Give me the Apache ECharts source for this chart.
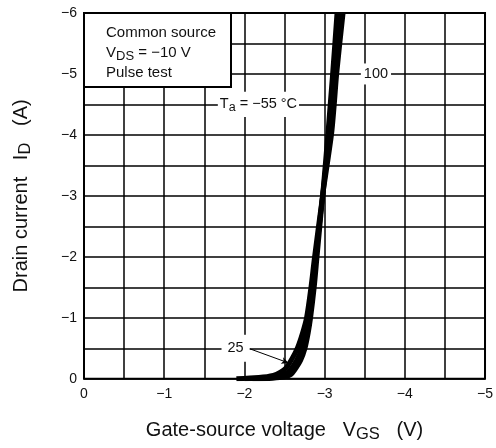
<!DOCTYPE html>
<html>
<head>
<meta charset="utf-8">
<script src="https://cdn.jsdelivr.net/npm/echarts@6/dist/echarts.min.js"></script>
<style>
  html, body { margin: 0; padding: 0; background: #fff; }
  #chart { width: 496px; height: 448px; }
</style>
</head>
<body>
<div id="chart"></div>
<script>
// Transfer characteristics (VGS in V, ID in A)
const vgsM55 = [-2.10, -2.35, -2.50, -2.58, -2.63, -2.70, -2.755, -2.795, -2.825, -2.87, -2.905, -2.975, -3.04, -3.07, -3.10, -3.155];
const idM55  = [0, -0.01, -0.03, -0.07, -0.15, -0.30, -0.50, -0.75, -1.0, -1.5, -2.0, -3.0, -4.0, -4.5, -5.0, -6.0];

const vgs25 = [-2.00, -2.28, -2.43, -2.52, -2.58, -2.65, -2.715, -2.762, -2.80, -2.85, -2.89, -2.975, -3.06, -3.095, -3.125, -3.19];
const id25  = [0, -0.015, -0.04, -0.09, -0.16, -0.30, -0.50, -0.75, -1.0, -1.5, -2.0, -3.0, -4.0, -4.5, -5.0, -6.0];

const vgs100 = [-1.90, -2.18, -2.36, -2.45, -2.52, -2.59, -2.66, -2.725, -2.775, -2.83, -2.875, -2.975, -3.085, -3.12, -3.15, -3.23];
const id100  = [0, -0.02, -0.055, -0.11, -0.18, -0.32, -0.50, -0.75, -1.0, -1.5, -2.0, -3.0, -4.0, -4.5, -5.0, -6.0];

// Curve labels (text, VGS, ID where they sit)
const labelTa  = { text: 'T{sub|a} = \u221255 \u00b0C', at: [-2.175, -4.5] };
const label100 = { text: '100', at: [-3.64, -5.0] };
const label25  = { text: '25', at: [-1.89, -0.5] };
const arrow25  = [[-2.07, -0.49], [-2.55, -0.26]];

const FONT = '"Liberation Sans", Arial, Helvetica, sans-serif';
const INK = '#111';

const pairs = (xs, ys) => xs.map((x, i) => [x, ys[i]]);
const minus = v => (v === 0 ? '0' : '\u2212' + Math.abs(v));

const chart = echarts.init(document.getElementById('chart'));

const subStyle = size => ({ fontSize: size, fontFamily: FONT, color: INK, padding: [size * 0.5, 0, 0, 0] });

const curve = (name, data, extra) => Object.assign({
  name: name,
  type: 'line',
  data: data,
  showSymbol: false,
  smooth: 0.3,
  clip: true,
  lineStyle: { color: '#000', width: 5 },
  z: 5
}, extra || {});

const markLabel = (lab, pad) => ({
  coord: lab.at,
  symbol: 'rect',
  symbolSize: 0,
  label: {
    show: true,
    position: 'inside',
    formatter: lab.text,
    fontSize: 14.5,
    fontFamily: FONT,
    color: INK,
    backgroundColor: '#fff',
    padding: pad,
    rich: { sub: subStyle(12.5) }
  }
});

chart.setOption({
  animation: false,
  backgroundColor: '#fff',
  textStyle: { fontFamily: FONT, color: INK },
  grid: {
    left: 84, right: 5, top: 13, bottom: 68,
    show: true, borderColor: '#000', borderWidth: 2, backgroundColor: 'transparent'
  },
  xAxis: {
    type: 'value',
    min: -5, max: 0, interval: 0.5,
    inverse: true,
    name: 'Gate-source voltage   V{sub|GS}   (V)',
    nameLocation: 'middle',
    nameGap: 39,
    nameTextStyle: { fontSize: 20, fontFamily: FONT, color: INK, rich: { sub: subStyle(16.5) } },
    axisLine: { show: false },
    axisTick: { show: false },
    axisLabel: {
      fontSize: 14, color: INK, fontFamily: FONT, margin: 8,
      formatter: v => (Number.isInteger(v) ? minus(v) : '')
    },
    splitLine: { show: true, lineStyle: { color: '#000', width: 1.5 } }
  },
  yAxis: {
    type: 'value',
    min: -6, max: 0, interval: 0.5,
    inverse: true,
    name: 'Drain current   I{sub|D}   (A)',
    nameLocation: 'middle',
    nameRotate: 90,
    nameGap: 50,
    nameTextStyle: { fontSize: 20, fontFamily: FONT, color: INK, rich: { sub: subStyle(16.5) } },
    axisLine: { show: false },
    axisTick: { show: false },
    axisLabel: {
      fontSize: 14, color: INK, fontFamily: FONT, margin: 7,
      formatter: v => (Number.isInteger(v) ? minus(v) : '')
    },
    splitLine: { show: true, lineStyle: { color: '#000', width: 1.5 } }
  },
  graphic: [
    {
      type: 'rect',
      shape: { x: 84, y: 13, width: 147, height: 74 },
      style: { fill: '#fff', stroke: '#000', lineWidth: 2 },
      z: 100
    },
    {
      type: 'text',
      x: 106, y: 23,
      style: {
        text: 'Common source\nV{sub|DS} = \u221210 V\nPulse test',
        font: '15px ' + FONT,
        fill: INK,
        lineHeight: 20,
        rich: {
          sub: { fontSize: 13, fontFamily: FONT, fill: INK, padding: [7, 0, 0, 0] }
        }
      },
      z: 101
    }
  ],
  series: [
    curve('-55', pairs(vgsM55, idM55), {
      markPoint: {
        silent: true,
        data: [markLabel(labelTa, [3, 2])]
      }
    }),
    curve('25', pairs(vgs25, id25), {
      markPoint: {
        silent: true,
        data: [markLabel(label25, [6, 6])]
      },
      markLine: {
        silent: true,
        symbol: ['none', 'arrow'],
        symbolSize: [5, 7],
        label: { show: false },
        lineStyle: { color: '#000', width: 1, type: 'solid' },
        data: [[{ coord: arrow25[0] }, { coord: arrow25[1] }]]
      }
    }),
    curve('100', pairs(vgs100, id100), {
      markPoint: {
        silent: true,
        data: [markLabel(label100, [3, 3])]
      }
    })
  ]
});
</script>
</body>
</html>
